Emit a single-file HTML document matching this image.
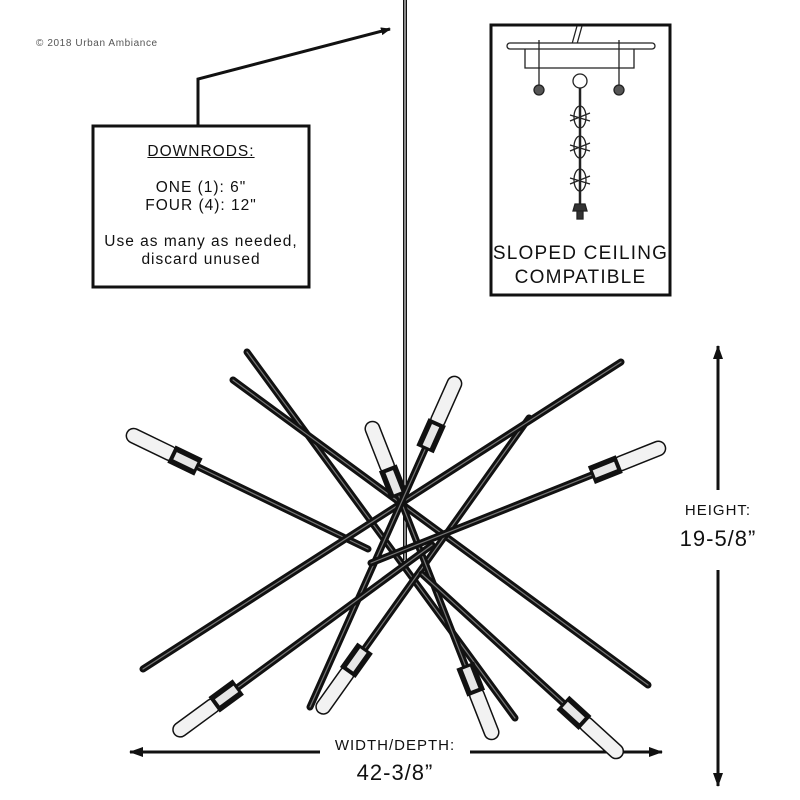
<!DOCTYPE html>
<html><head><meta charset="utf-8">
<style>
html,body{margin:0;padding:0;background:#fff;}
#c{position:relative;width:800px;height:800px;overflow:hidden;font-family:"Liberation Sans",sans-serif;color:#111;}
.t{position:absolute;text-align:center;white-space:nowrap;}
</style></head>
<body><div id="c">
<svg id="s" width="800" height="800" style="position:absolute;left:0;top:0">
<defs><marker id="ah" markerWidth="10" markerHeight="8" refX="9" refY="4" orient="auto" markerUnits="userSpaceOnUse"><path d="M0,0 L10,4 L0,8 z" fill="#111"/></marker>
<marker id="ah2" markerWidth="14" markerHeight="10" refX="13" refY="5" orient="auto" markerUnits="userSpaceOnUse"><path d="M0,0 L14,5 L0,10 z" fill="#111"/></marker></defs>
<line x1="405" y1="0" x2="405" y2="560" stroke="#111" stroke-width="4"/>
<line x1="405" y1="0" x2="405" y2="560" stroke="#fff" stroke-width="1"/>
<polyline points="198,126 198,79 390,29" fill="none" stroke="#111" stroke-width="3" marker-end="url(#ah)"/>
<rect x="93" y="126" width="216" height="161" fill="#fff" stroke="#111" stroke-width="3"/>
<rect x="491" y="25" width="179" height="270" fill="#fff" stroke="#111" stroke-width="3"/>
<g stroke="#222" fill="none" stroke-width="1.3">
<path d="M577,26 L572,44 M582,26 L577,44"/>
<rect x="507" y="43" width="148" height="6" rx="3" fill="#fff"/>
<path d="M525,49 L525,68 L634,68 L634,49"/>
<line x1="539" y1="40" x2="539" y2="90"/><circle cx="539" cy="90" r="5" fill="#555"/>
<line x1="619" y1="40" x2="619" y2="90"/><circle cx="619" cy="90" r="5" fill="#555"/>
<circle cx="580" cy="81" r="7"/>
<line x1="580" y1="88" x2="580" y2="205" stroke-width="2.5"/>
<ellipse cx="580" cy="117" rx="6" ry="11"/><path d="M570,115 L590,121 M570,121 L590,113"/>
<ellipse cx="580" cy="147" rx="6" ry="11"/><path d="M570,145 L590,151 M570,151 L590,143"/>
<ellipse cx="580" cy="180" rx="6" ry="11"/><path d="M570,178 L590,184 M570,184 L590,176"/>
<path d="M575,204 L585,204 L587,211 L573,211 z" fill="#333"/><rect x="577" y="211" width="6" height="8" fill="#333"/>
</g>
<line x1="718" y1="360" x2="718" y2="346" stroke="#111" stroke-width="3" marker-end="url(#ah2)"/>
<line x1="718" y1="360" x2="718" y2="490" stroke="#111" stroke-width="3"/>
<line x1="718" y1="570" x2="718" y2="786" stroke="#111" stroke-width="3" marker-end="url(#ah2)"/>
<line x1="320" y1="752" x2="130" y2="752" stroke="#111" stroke-width="3" marker-end="url(#ah2)"/>
<line x1="470" y1="752" x2="662" y2="752" stroke="#111" stroke-width="3" marker-end="url(#ah2)"/>
<g id="rods"></g>
</svg>
<div class="t" style="left:36px;top:38px;font-size:10px;color:#555;letter-spacing:0.6px;">© 2018 Urban Ambiance</div>
<div class="t" style="left:93px;width:216px;top:143px;font-size:15.5px;line-height:18px;letter-spacing:1px;"><u>DOWNRODS:</u><br><br>ONE (1): 6"<br>FOUR (4): 12"<br><br>Use as many as needed,<br>discard unused</div>
<div class="t" style="left:491px;width:179px;top:242px;font-size:19px;line-height:24px;letter-spacing:1.2px;">SLOPED CEILING<br>COMPATIBLE</div>
<div class="t" style="left:668px;width:100px;top:502px;font-size:15px;letter-spacing:1px;">HEIGHT:</div>
<div class="t" style="left:663px;width:110px;top:526px;font-size:22px;letter-spacing:1px;">19-5/8”</div>
<div class="t" style="left:295px;width:200px;top:737px;font-size:15px;letter-spacing:1px;">WIDTH/DEPTH:</div>
<div class="t" style="left:295px;width:200px;top:760px;font-size:22px;letter-spacing:1px;">42-3/8”</div>
</div>
<script>
var g=document.getElementById('rods'),NS='http://www.w3.org/2000/svg';
function L(a,b,c,d,col,w,cap){var l=document.createElementNS(NS,'line');l.setAttribute('x1',a);l.setAttribute('y1',b);l.setAttribute('x2',c);l.setAttribute('y2',d);l.setAttribute('stroke',col);l.setAttribute('stroke-width',w);l.setAttribute('stroke-linecap',cap||'round');g.appendChild(l);}
function rod(x1,y1,x2,y2,b1,b2){
 var dx=x2-x1,dy=y2-y1,n=Math.hypot(dx,dy);dx/=n;dy/=n;
 var sx=x1,sy=y1,ex=x2,ey=y2;
 if(b1){sx=x1+dx*75;sy=y1+dy*75;}
 if(b2){ex=x2-dx*75;ey=y2-dy*75;}
 L(sx,sy,ex,ey,'#111',7);L(sx,sy,ex,ey,'#777',1.2);
 function bulb(px,py,ux,uy){
  L(px+ux*4,py+uy*4,px+ux*44,py+uy*44,'#111',16);L(px+ux*4,py+uy*4,px+ux*44,py+uy*44,'#f2f2f2',13);
  L(px+ux*46,py+uy*46,px+ux*76,py+uy*76,'#111',19,'butt');L(px+ux*50,py+uy*50,px+ux*73,py+uy*73,'#e6e6e6',8,'butt');
 }
 if(b1)bulb(x1,y1,dx,dy);
 if(b2)bulb(x2,y2,-dx,-dy);
}
rod(247,352,515,718,0,0);
rod(233,380,648,685,0,0);
rod(130,434,368,549,1,0);
rod(529,418,321,710,0,1);
rod(621,362,143,669,0,0);
rod(371,425,493,736,1,1);
rod(456,380,310,707,1,0);
rod(662,447,371,563,1,0);
rod(177,732,432,545,1,0);
rod(619,754,422,574,1,0);
</script>
</body></html>
